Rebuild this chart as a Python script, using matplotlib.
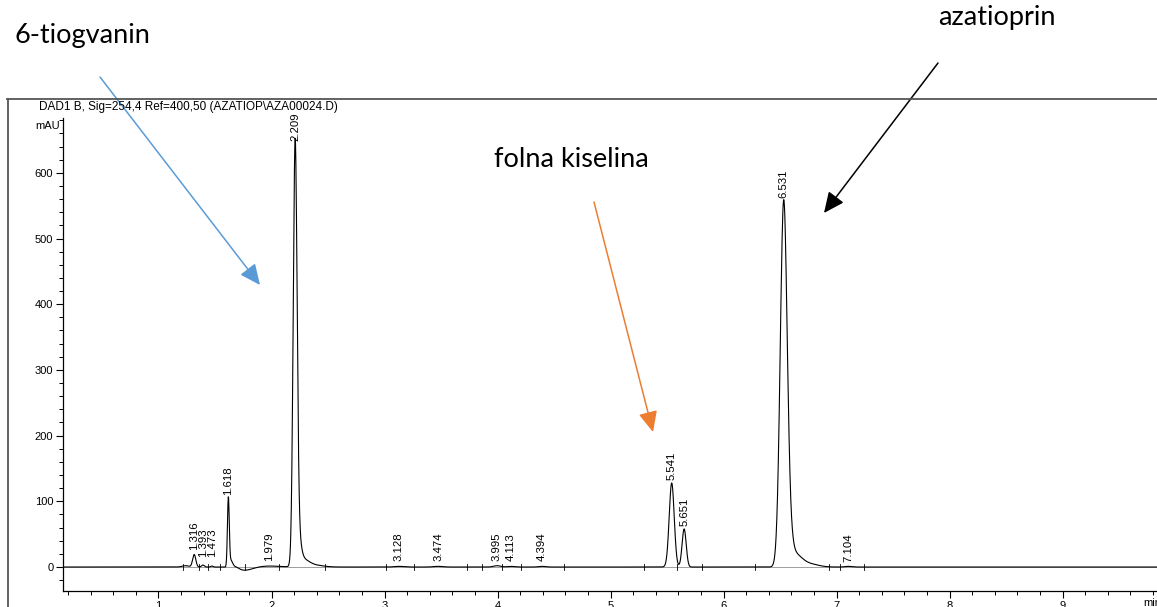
import numpy as np
import matplotlib
matplotlib.use("Agg")
from matplotlib import pyplot as plt
from matplotlib.lines import Line2D
from matplotlib.patches import FancyArrowPatch
from matplotlib.ticker import MultipleLocator

# peak components of the trace (min, mAU, min)
comp_rt = [1.24, 1.316, 1.393, 1.473, 1.618, 1.64, 1.68, 1.76, 1.98,
           2.209, 2.235, 2.28, 2.37,
           3.128, 3.474, 3.995, 4.113, 4.394, 5.541, 5.651,
           6.531, 6.57, 6.64, 6.75, 7.104]
comp_h = [2.0, 19.0, 3.0, 1.5, 104.0, 10.0, 3.0, -5.0, 1.5,
          625.0, 40.0, 10.0, 3.0,
          1.0, 1.0, 2.0, 1.0, 1.0, 128.0, 58.0,
          532.0, 45.0, 16.0, 5.0, 1.0]
comp_sd = [0.03, 0.014, 0.012, 0.01, 0.008, 0.015, 0.03, 0.07, 0.09,
           0.017, 0.025, 0.05, 0.08,
           0.04, 0.04, 0.03, 0.03, 0.03, 0.022, 0.018,
           0.03, 0.035, 0.055, 0.08, 0.03]

# labelled retention times and where the label starts (mAU)
label_rt = [1.316, 1.393, 1.473, 1.618, 1.979, 2.209, 3.128, 3.474, 3.995, 4.113,
            4.394, 5.541, 5.651, 6.531, 7.104]
label_y = [26, 16, 16, 110, 9, 648, 9, 9, 9, 9, 9, 133, 63, 561, 7]

# integration marks on the baseline
mark_rt = [1.216, 1.356, 1.437, 1.543, 1.763, 2.07, 2.47, 3.017, 3.264, 3.73, 3.86,
           4.04, 4.21, 4.59, 5.30, 5.59, 5.81, 6.28, 6.93, 7.03, 7.24]

W, H = 1157, 607
fig = plt.figure(figsize=(W / 100, H / 100), dpi=100)
plt.rcParams['font.family'] = ['Liberation Sans', 'DejaVu Sans']

def fx(px):
    return px / W

def fy(py):
    return 1 - py / H

x0_px, x_right_px = 63, W
y_top_px, y_bot_px = 118, 591
ax = fig.add_axes([fx(x0_px), fy(y_bot_px), fx(x_right_px) - fx(x0_px), fy(y_top_px) - fy(y_bot_px)])

t = np.linspace(0.155, 9.85, 6000)
sig = np.zeros_like(t)
for r, h, s in zip(comp_rt, comp_h, comp_sd):
    sig += h * np.exp(-0.5 * ((t - r) / s) ** 2)

ax.plot(t, sig, color='black', lw=0.8)
ax.axhline(0, color='#777777', lw=0.5, zorder=0)
for m in mark_rt:
    ax.plot([m, m], [-4, 4], color='black', lw=0.6)

for r, yl in zip(label_rt, label_y):
    ax.text(r, yl, "%.3f" % r, rotation=90, ha='center', va='bottom', fontsize=8.2)

ax.set_xlim(0.155, 9.835)
ax.set_ylim(-36.5, 683.4)
ax.spines['top'].set_visible(False)
ax.spines['right'].set_visible(False)
ax.spines['left'].set_linewidth(0.9)
ax.spines['bottom'].set_linewidth(0.9)
ax.set_facecolor('none')
ax.xaxis.set_minor_locator(MultipleLocator(0.2))
ax.yaxis.set_minor_locator(MultipleLocator(20))
ax.set_yticks([0, 100, 200, 300, 400, 500, 600])
ax.set_xticks([1, 2, 3, 4, 5, 6, 7, 8, 9])
ax.tick_params(which='major', direction='out', length=5, width=0.8, labelsize=8, pad=2)
ax.tick_params(which='minor', direction='out', length=3, width=0.7)

fig.text(fx(48), fy(126), "mAU", fontsize=8, ha='center', va='center')
fig.text(fx(1143), fy(603), "min", fontsize=8, ha='left', va='center')
fig.text(fx(39), fy(107), "DAD1 B, Sig=254,4 Ref=400,50 (AZATIOP\\AZA00024.D)",
         fontsize=8.5, ha='left', va='center')

# outer frame
fig.add_artist(Line2D([fx(7.5), fx(7.5)], [fy(99), 0], color='#555555', lw=1.3))
fig.add_artist(Line2D([fx(7), 1], [fy(99), fy(99)], color='#555555', lw=1.3))

# compound annotations
ann_font = ['Lato', 'DejaVu Sans']
fig.text(fx(14), fy(35), "6-tiogvanin", fontsize=19.5, family=ann_font, ha='left', va='center')
fig.text(fx(494), fy(160), "folna kiselina", fontsize=19.5, family=ann_font, ha='left', va='center')
fig.text(fx(938), fy(18), "azatioprin", fontsize=19.5, family=ann_font, ha='left', va='center')

arrows = [((100, 77), (260, 285), '#5B9BD5'),
          ((594, 202), (653, 432), '#ED7D31'),
          ((938, 63), (824, 213), 'black')]
for (xa, ya), (xb, yb), c in arrows:
    fig.add_artist(FancyArrowPatch((fx(xa), fy(ya)), (fx(xb), fy(yb)),
                                   transform=fig.transFigure, color=c, lw=1.1,
                                   arrowstyle='-|>,head_length=0.7,head_width=0.32',
                                   mutation_scale=18, shrinkA=0, shrinkB=0))

fig.savefig("out.png", dpi=100)
